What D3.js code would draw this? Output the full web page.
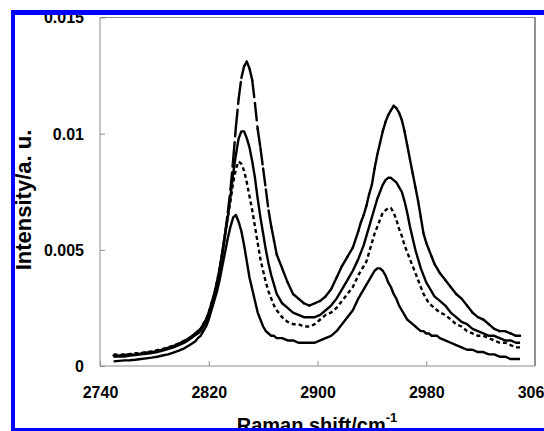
<!DOCTYPE html>
<html>
<head>
<meta charset="utf-8">
<script src="https://cdn.jsdelivr.net/npm/d3@7/dist/d3.min.js"></script>
<style>
  html, body { margin: 0; padding: 0; background: #fff; overflow: hidden; }
  text { font-family: "Liberation Sans", Arial, sans-serif; font-weight: bold; fill: #000; }
</style>
</head>
<body>
<svg id="chart" width="544" height="431"></svg>
<script>
// Raman shift (cm-1) sampling positions
const shift = [
  2750,2754,2758,2762,2766,2770,2774,2778,2782,2786,2790,2794,2798,2802,2806,2810,
  2812,2814,2816,2818,2820,2822,2824,2826,2828,2830,2832,2834,2836,2838,2840,2842,2844,2846,2848,2850,2852,2854,2856,2858,2860,2862,2864,2866,2868,2870,
  2874,2878,2882,2886,2890,2894,2898,2902,2906,2910,2914,2918,2922,2926,2930,
  2932,2934,2936,2938,2940,2942,2944,2946,2948,2950,2952,2954,2956,2958,2960,2962,2964,2966,2968,2970,2972,2974,2976,2978,2980,2982,2984,2986,2988,2990,
  2994,2998,3002,3006,3010,3014,3018,3022,3026,3030,3034,3038,3042,3046,3049
];

// Spectrum drawn with long dashes (tallest CH2 peak)
const spectrumDashed = [
  0.00045,0.00044,0.00048,0.0005,0.00049,0.00053,0.00057,0.0006,0.00065,0.0007,0.00078,0.00086,0.00096,0.00108,0.00122,0.0014,
  0.0015,0.0016,0.0018,0.002,0.0023,0.0027,0.0031,0.0036,0.0042,0.0049,0.0057,0.0066,0.0076,0.0089,0.0103,0.0115,0.0124,0.0129,0.0131,0.0128,0.0123,0.0113,0.0102,0.0094,0.0085,0.0076,0.0067,0.006,0.0054,0.0048,
  0.0042,0.0036,0.0031,0.0029,0.0027,0.0026,0.0027,0.0028,0.003,0.0033,0.0038,0.0043,0.0047,0.0051,0.0058,
  0.0062,0.0065,0.0069,0.0074,0.0078,0.0085,0.0091,0.0096,0.0101,0.0105,0.0108,0.011,0.0112,0.0111,0.0109,0.0106,0.0101,0.0095,0.0089,0.0083,0.0077,0.0071,0.0064,0.0057,0.0053,0.005,0.0047,0.0044,0.0042,0.004,
  0.0037,0.0034,0.0031,0.0029,0.0026,0.0023,0.0021,0.002,0.0018,0.0016,0.0015,0.0015,0.0014,0.0013,0.0013
];

// Solid spectrum, second highest CH2 peak
const spectrumSolid1 = [
  0.0004,0.00042,0.00041,0.00045,0.00047,0.0005,0.00052,0.00056,0.0006,0.00066,0.00073,0.0008,0.0009,0.001,0.00115,0.00132,
  0.0014,0.0015,0.0017,0.0019,0.0022,0.0026,0.003,0.0035,0.0041,0.0048,0.0056,0.0064,0.0073,0.0083,0.0091,0.0098,0.0101,0.0101,0.0098,0.0094,0.0088,0.0081,0.0072,0.0064,0.0057,0.005,0.0044,0.0039,0.0035,0.0031,
  0.0027,0.0025,0.0023,0.0022,0.0021,0.0021,0.0021,0.0022,0.0024,0.0026,0.0029,0.0033,0.0037,0.0041,0.0046,
  0.0049,0.0052,0.0056,0.006,0.0064,0.0068,0.0072,0.0075,0.0078,0.008,0.0081,0.0081,0.008,0.0079,0.0077,0.0075,0.0071,0.0066,0.006,0.0055,0.005,0.0046,0.0042,0.0039,0.0036,0.0034,0.0032,0.003,0.0029,0.0028,
  0.0026,0.0023,0.0021,0.0019,0.0018,0.0016,0.0015,0.0014,0.0013,0.0013,0.0012,0.0011,0.0011,0.001,0.001
];

// Spectrum drawn with short dashes
const spectrumDotted = [
  0.0005,0.00048,0.0005,0.00052,0.00055,0.00056,0.0006,0.00063,0.00068,0.00073,0.0008,0.00088,0.00097,0.00108,0.0012,0.00135,
  0.00145,0.0016,0.0018,0.002,0.0023,0.0027,0.0031,0.0036,0.0042,0.0049,0.0057,0.0064,0.0071,0.0079,0.0085,0.0088,0.0087,0.0084,0.0079,0.0073,0.0067,0.006,0.0053,0.0046,0.0041,0.0036,0.0032,0.0029,0.0026,0.0024,
  0.0021,0.0019,0.0018,0.0018,0.0017,0.0017,0.0018,0.002,0.0022,0.0023,0.0025,0.0028,0.0031,0.0034,0.0039,
  0.0041,0.0043,0.0045,0.0049,0.0053,0.0057,0.006,0.0063,0.0066,0.0067,0.0068,0.0068,0.0066,0.0063,0.0059,0.0056,0.0052,0.0049,0.0046,0.0043,0.004,0.0037,0.0034,0.0031,0.0029,0.0027,0.0026,0.0025,0.0024,0.0023,
  0.0022,0.002,0.0018,0.0017,0.0015,0.0014,0.0013,0.0013,0.0012,0.0011,0.001,0.001,0.0009,0.0008,0.0008
];

// Solid spectrum with the lowest peaks
const spectrumSolid2 = [
  0.0002,0.00022,0.00024,0.00025,0.00027,0.0003,0.00033,0.00036,0.0004,0.00045,0.0005,0.00058,0.00066,0.00076,0.0009,0.00105,
  0.0012,0.0013,0.0015,0.0017,0.002,0.0024,0.0028,0.0032,0.0037,0.0043,0.0049,0.0055,0.006,0.0064,0.0065,0.0062,0.0058,0.0052,0.0045,0.0038,0.0033,0.0028,0.0023,0.002,0.0017,0.0015,0.0014,0.0013,0.0013,0.0012,
  0.0012,0.0011,0.0011,0.001,0.001,0.001,0.001,0.0011,0.0012,0.0013,0.0015,0.0018,0.0021,0.0024,0.0029,
  0.0031,0.0033,0.0035,0.0037,0.0039,0.0041,0.0042,0.0042,0.0041,0.0039,0.0036,0.0034,0.0031,0.0029,0.0026,0.0024,0.0022,0.002,0.0019,0.0018,0.0017,0.0016,0.0015,0.0015,0.0014,0.0014,0.0013,0.0013,0.0013,0.0012,
  0.0011,0.001,0.0009,0.0008,0.0007,0.0007,0.0006,0.0006,0.0005,0.0005,0.0004,0.0004,0.0003,0.0003,0.0003
];

const xTickValues = [2740, 2820, 2900, 2980, 3060];
const yTickValues = [0, 0.005, 0.01, 0.015];
const yTickLabels = ["0", "0.005", "0.01", "0.015"];

const svg = d3.select("#chart");
const plot = { left: 100, right: 535, top: 17.5, bottom: 366 };

const x = d3.scaleLinear().domain([2740, 3060]).range([plot.left, plot.right]);
const y = d3.scaleLinear().domain([0, 0.015]).range([plot.bottom, plot.top]);

svg.append("rect").attr("width", 544).attr("height", 431).attr("fill", "#fff");

// Plot frame
svg.append("path")
  .attr("d", `M${plot.left},${plot.bottom}V${plot.top}H${plot.right}`)
  .attr("fill", "none").attr("stroke", "#8c8c8c").attr("stroke-width", 1);
svg.append("path")
  .attr("d", `M${plot.right},${plot.top}V${plot.bottom}`)
  .attr("fill", "none").attr("stroke", "#222").attr("stroke-width", 1);
svg.append("path")
  .attr("d", `M${plot.left},${plot.bottom}H${plot.right}`)
  .attr("fill", "none").attr("stroke", "#8c8c8c").attr("stroke-width", 1);

// Axes with inward ticks
const xAxis = d3.axisBottom(x).tickValues(xTickValues).tickSize(-5).tickPadding(21)
  .tickFormat(d3.format("d"));
const gx = svg.append("g").attr("transform", `translate(0,${plot.bottom})`).call(xAxis);
gx.select(".domain").remove();
gx.selectAll(".tick line").attr("stroke", "#8c8c8c");
gx.selectAll(".tick text").attr("font-size", 16).attr("font-family", null);

const yAxis = d3.axisLeft(y).tickValues(yTickValues).tickSize(-5).tickPadding(16)
  .tickFormat((d, i) => yTickLabels[i]);
const gy = svg.append("g").attr("transform", `translate(${plot.left},0)`).call(yAxis);
gy.select(".domain").remove();
gy.selectAll(".tick line").attr("stroke", "#8c8c8c");
gy.selectAll(".tick text").attr("font-size", 16).attr("font-family", null).attr("dy", "0.34em");

// Spectra
const line = d3.line().x(d => x(d[0])).y(d => y(d[1]));
const curves = svg.append("g").attr("fill", "none").attr("stroke", "#000")
  .attr("stroke-width", 2.4).attr("stroke-linejoin", "round");

curves.append("path").datum(d3.zip(shift, spectrumSolid2)).attr("d", line);
curves.append("path").datum(d3.zip(shift, spectrumSolid1)).attr("d", line);
curves.append("path").datum(d3.zip(shift, spectrumDotted)).attr("d", line)
  .attr("stroke-dasharray", "4,3");
// long-dash pattern restarts on each segment, so only long (steep) segments show gaps
curves.append("g").selectAll("path")
  .data(d3.pairs(d3.zip(shift, spectrumDashed)))
  .join("path")
  .attr("d", line)
  .attr("stroke-linecap", "round")
  .attr("stroke-dasharray", "17,6");

// Axis titles
const xt = svg.append("text").attr("x", 317).attr("y", 432)
  .attr("text-anchor", "middle").attr("font-size", 20);
xt.append("tspan").text("Raman shift/cm");
xt.append("tspan").attr("dy", -10).attr("font-size", 13).text("-1");

svg.append("text")
  .attr("transform", "translate(31,200) rotate(-90)")
  .attr("text-anchor", "middle").attr("font-size", 22)
  .text("Intensity/a. u.");

// Blue outer border
const blue = "#0000ff";
svg.append("rect").attr("x", 11).attr("y", 10).attr("width", 4).attr("height", 421).attr("fill", blue);
svg.append("rect").attr("x", 11).attr("y", 10).attr("width", 533).attr("height", 5).attr("fill", blue);
svg.append("rect").attr("x", 11).attr("y", 428).attr("width", 533).attr("height", 3).attr("fill", blue);
</script>
</body>
</html>
